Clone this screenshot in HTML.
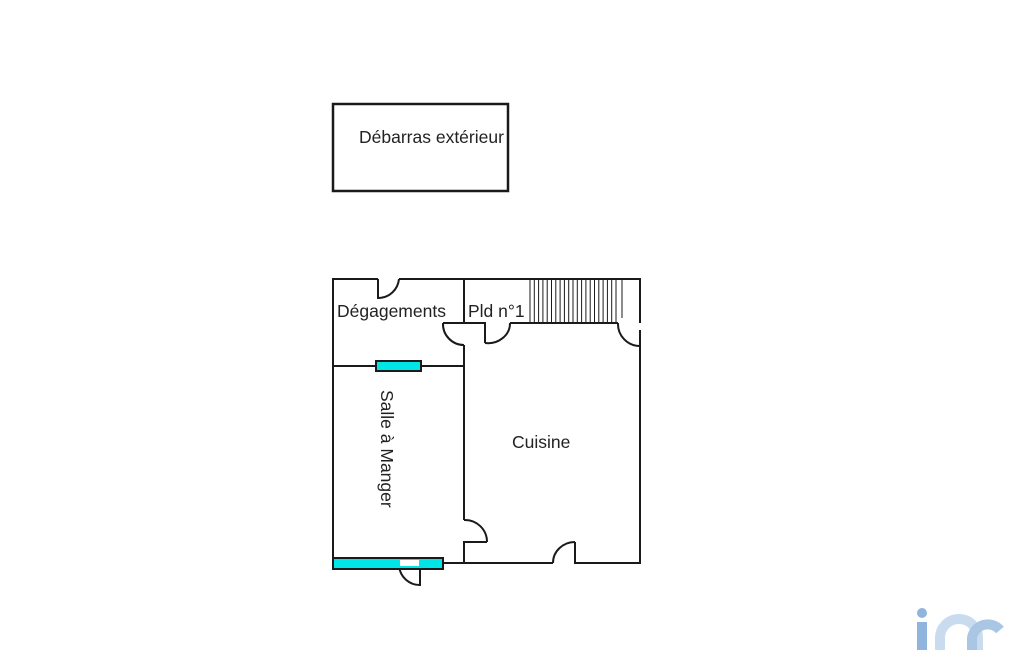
<!DOCTYPE html>
<html><head><meta charset="utf-8"><style>
html,body{margin:0;padding:0;background:#fff;}
svg{display:block;}
text{font-family:"Liberation Sans",sans-serif;fill:#222;}
</style></head><body>
<svg width="1025" height="650" viewBox="0 0 1025 650" xmlns="http://www.w3.org/2000/svg">
<g fill="none" stroke="#1a1a1a" stroke-width="2">
<rect x="333" y="104" width="175" height="87" stroke-width="2.5"/>
<path d="M378 279 H333 V563 H464"/>
<path d="M399 279 H640 V323"/>
<path d="M640 330 V563 H575 V542"/>
<path d="M553 563 H464 V542 H487"/>
<path d="M464 520 V345"/>
<path d="M464 279 V323 H443"/>
<path d="M464 323 H485 V343"/>
<path d="M510 323 H618"/>
<path d="M333 366 H464"/>
<path d="M378 279 V298 A21 21 0 0 0 399 279"/>
<path d="M443 323 A21 21 0 0 0 464 345"/>
<path d="M485 343 A22 20 0 0 0 510 323"/>
<path d="M618 323 A22 22 0 0 0 640 346"/>
<path d="M464 520 A22 22 0 0 1 487 542"/>
<path d="M553 563 A22 21 0 0 1 575 542"/>
<path d="M420 566 V585 A21 21 0 0 1 399 566"/>
</g>
<g stroke="#1a1a1a" stroke-width="1">
<line x1="530" y1="279" x2="530" y2="323"/><line x1="534.3" y1="279" x2="534.3" y2="323"/><line x1="538.6" y1="279" x2="538.6" y2="323"/><line x1="542.9" y1="279" x2="542.9" y2="323"/><line x1="547.2" y1="279" x2="547.2" y2="323"/><line x1="551.5" y1="279" x2="551.5" y2="323"/><line x1="555.8" y1="279" x2="555.8" y2="323"/><line x1="560.1" y1="279" x2="560.1" y2="323"/><line x1="564.4" y1="279" x2="564.4" y2="323"/><line x1="568.7" y1="279" x2="568.7" y2="323"/><line x1="573" y1="279" x2="573" y2="323"/><line x1="577.3" y1="279" x2="577.3" y2="323"/><line x1="581.6" y1="279" x2="581.6" y2="323"/><line x1="585.9" y1="279" x2="585.9" y2="323"/><line x1="590.2" y1="279" x2="590.2" y2="323"/><line x1="594.5" y1="279" x2="594.5" y2="323"/><line x1="598.8" y1="279" x2="598.8" y2="323"/><line x1="603.1" y1="279" x2="603.1" y2="323"/><line x1="607.4" y1="279" x2="607.4" y2="323"/><line x1="611.7" y1="279" x2="611.7" y2="323"/><line x1="616" y1="279" x2="616" y2="323"/><line x1="622" y1="279" x2="622" y2="318"/>
</g>
<rect x="376" y="361" width="45" height="10" fill="#00e5e5" stroke="#1a1a1a" stroke-width="2"/>
<rect x="333" y="558" width="110" height="11" fill="#00e5e5" stroke="#1a1a1a" stroke-width="2"/>
<rect x="400" y="560" width="19" height="6" fill="#fff"/>
<text x="359" y="143" font-size="17.5">Débarras extérieur</text>
<text x="337" y="317" font-size="17.5">Dégagements</text>
<text x="468" y="317" font-size="17.5">Pld n°1</text>
<text x="512" y="448" font-size="17.5">Cuisine</text>
<text x="0" y="0" font-size="17.5" transform="translate(381,390) rotate(90)">Salle à Manger</text>
<g>
<circle cx="922" cy="613" r="5" fill="#8fb5dc"/>
<rect x="917" y="622" width="10" height="28" fill="#8fb5dc"/>
<path d="M940 650 V638 A19 19 0 0 1 978 638 V650" fill="none" stroke="#c9dcef" stroke-width="10"/>
<path d="M972 650 V638 A16 16 0 0 1 1000 630" fill="none" stroke="#a9c6e5" stroke-width="10"/>
</g>
</svg>
</body></html>
